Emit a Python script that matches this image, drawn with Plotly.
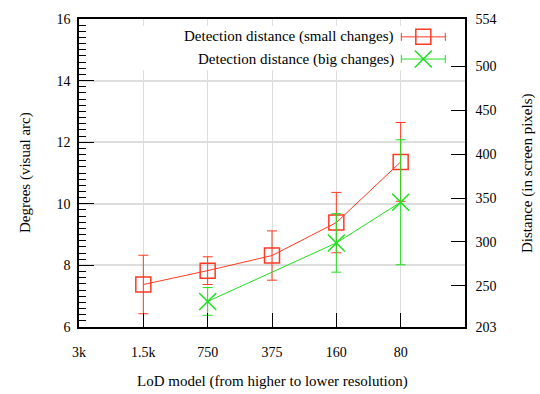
import plotly.graph_objects as go

# ---- data ----
categories = ["3k", "1.5k", "750", "375", "160", "80"]
cat_pos = [0, 1, 2, 3, 4, 5]

small_x = [1, 2, 3, 4, 5]
small_y = [7.38, 7.83, 8.32, 9.39, 11.36]
small_err = [0.95, 0.45, 0.80, 0.98, 1.28]

big_x = [2, 4, 5]
big_y = [6.83, 8.73, 10.05]
big_err = [0.45, 0.95, 2.03]

right_ticks = [203, 250, 300, 350, 400, 450, 500, 554]

series_names = ["Detection distance (small changes)", "Detection distance (big changes)"]

RED = "#ff3a22"
GREEN = "#1ee01e"
FONT = "Liberation Serif, DejaVu Serif, Times New Roman, serif"

fig = go.Figure()

# opaque legend region hides vertical grid lines
fig.add_shape(type="rect", xref="x", yref="y", x0=0, x1=6, y0=14.34, y1=15.78,
              fillcolor="white", line_width=0, layer="between")

fig.add_trace(go.Scatter(
    x=small_x, y=small_y, mode="lines+markers",
    line=dict(color=RED, width=1),
    marker=dict(symbol="square-open", size=15, color=RED, line=dict(width=1.5)),
    error_y=dict(type="data", array=small_err, color=RED, thickness=1, width=5),
    showlegend=False))

fig.add_trace(go.Scatter(
    x=big_x, y=big_y, mode="lines+markers",
    line=dict(color=GREEN, width=1),
    marker=dict(symbol="x-thin-open", size=17, color=GREEN, line=dict(width=1.5, color=GREEN)),
    error_y=dict(type="data", array=big_err, color=GREEN, thickness=1, width=5),
    showlegend=False))

# dummy trace to show right axis
fig.add_trace(go.Scatter(x=[None], y=[None], yaxis="y2", showlegend=False))

# custom legend samples (on a hidden 0..1 axis pair)
leg_x = [0.892, 0.892]
leg_y = [0.942, 0.870]
fig.add_trace(go.Scatter(
    x=[leg_x[0]], y=[leg_y[0]], xaxis="x2", yaxis="y3", mode="markers",
    marker=dict(symbol="square-open", size=15, color=RED, line=dict(width=1.5)),
    error_x=dict(type="constant", value=0.057, color=RED, thickness=1, width=4),
    showlegend=False, hoverinfo="skip"))
fig.add_trace(go.Scatter(
    x=[leg_x[1]], y=[leg_y[1]], xaxis="x2", yaxis="y3", mode="markers",
    marker=dict(symbol="x-thin-open", size=17, color=GREEN, line=dict(width=1.5, color=GREEN)),
    error_x=dict(type="constant", value=0.057, color=GREEN, thickness=1, width=4),
    showlegend=False, hoverinfo="skip"))

annotations = []
for name, yy in zip(series_names, leg_y):
    annotations.append(dict(text=name, x=0.82, y=yy, xref="paper", yref="paper",
                            xanchor="right", yanchor="middle", showarrow=False,
                            font=dict(family=FONT, size=15, color="black")))

annotations.append(dict(text="LoD model (from higher to lower resolution)",
                        x=(272 - 79) / 386, y=(327.5 - 383) / 312.5, xref="paper", yref="paper",
                        xanchor="center", yanchor="middle", showarrow=False,
                        font=dict(family=FONT, size=15, color="black")))
annotations.append(dict(text="Degrees (visual arc)", textangle=-90,
                        x=(25 - 79) / 386, y=0.5, xref="paper", yref="paper",
                        xanchor="center", yanchor="middle", showarrow=False,
                        font=dict(family=FONT, size=15, color="black")))
annotations.append(dict(text="Distance (in screen pixels)", textangle=-90,
                        x=(527 - 79) / 386, y=0.5, xref="paper", yref="paper",
                        xanchor="center", yanchor="middle", showarrow=False,
                        font=dict(family=FONT, size=15, color="black")))

fig.update_layout(
    width=540, height=394,
    margin=dict(l=79, r=75, t=15, b=66.5),
    paper_bgcolor="white", plot_bgcolor="white",
    font=dict(family=FONT, size=14, color="black"),
    showlegend=False,
    annotations=annotations,
    xaxis=dict(range=[0, 6], tickvals=cat_pos, ticktext=categories,
               showgrid=True, gridcolor="#dddddd", gridwidth=1,
               showline=True, linecolor="black", linewidth=1.5, mirror=True,
               ticks="inside", ticklen=14, tickcolor="black", tickwidth=1.2,
               ticklabelstandoff=11, zeroline=False),
    yaxis=dict(range=[6, 16], tickvals=[6, 8, 10, 12, 14, 16],
               showgrid=True, gridcolor="#dddddd", gridwidth=1.5,
               showline=True, linecolor="black", linewidth=1.5, mirror=False,
               ticks="inside", ticklen=15, tickcolor="black", tickwidth=1.2,
               ticklabelstandoff=4, zeroline=False,
               minor=dict(dtick=0.2, ticks="inside", ticklen=7, tickcolor="black",
                          tickwidth=1, showgrid=False)),
    yaxis2=dict(range=[203, 554], tickvals=right_ticks, overlaying="y", side="right",
                showgrid=False, showline=True, linecolor="black", linewidth=1.5,
                ticks="inside", ticklen=14, tickcolor="black", tickwidth=1.2,
                ticklabelstandoff=6, zeroline=False),
    xaxis2=dict(range=[0, 1], overlaying="x", visible=False),
    yaxis3=dict(range=[0, 1], overlaying="y", visible=False),
)

fig.write_html("out.html")
